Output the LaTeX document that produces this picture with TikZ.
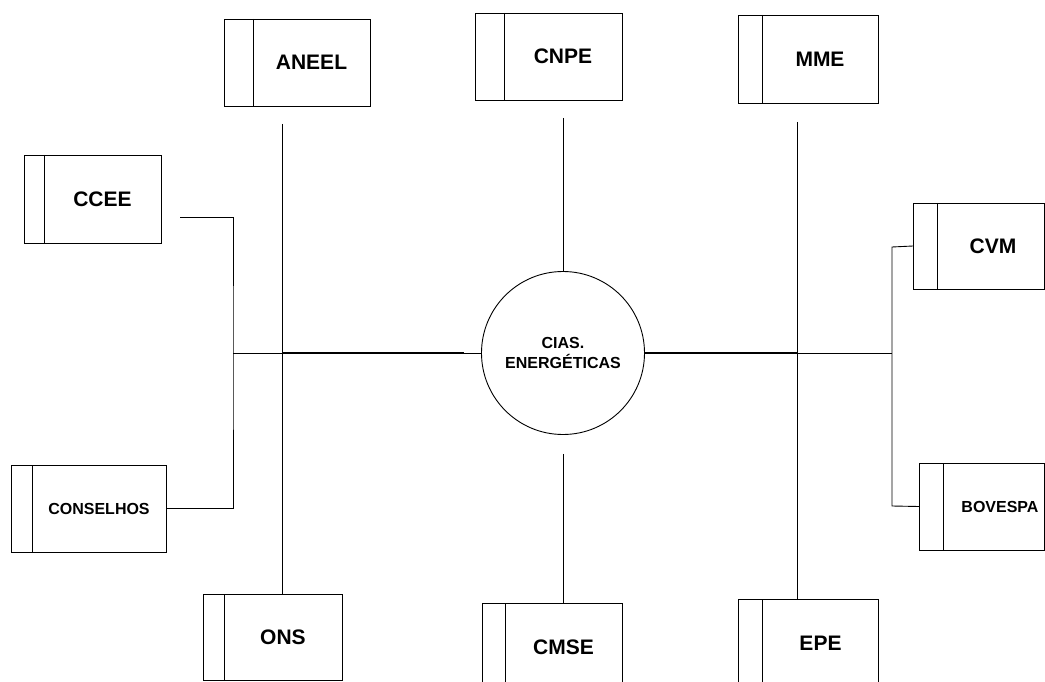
\documentclass[tikz,border=0pt]{standalone}
\usepackage{fontspec}
\setmainfont{Liberation Sans}
\tikzset{
  orgframe/.style={draw, rectangle, inner sep=0pt, outer sep=0pt, line width=0.9pt},
  orglabel/.style={inner sep=0pt, font=\bfseries\fontsize{#1}{#1}\selectfont},
  link/.style={line width=0.9pt},
  heavylink/.style={line width=2.2pt},
}
% #1 name, #2 x1, #3 y1, #4 x2, #5 y2, #6 divider x, #7 text x, #8 font size, #9 text
\newcommand{\orgbox}[9]{%
  \node[orgframe, minimum width={#4-#2}, minimum height={#5-#3}] (#1) at ({(#2+#4)/2},{(#3+#5)/2}) {};
  \coordinate (#1-d) at (#6,#3);
  \draw[line width=0.9pt] (#1.north -| #1-d) -- (#1.south -| #1-d);
  \node[orglabel=#8] (#1-t) at (#7,{(#3+#5)/2}) {#9};
}
\begin{document}
\begin{tikzpicture}[x=1pt,y=-1pt]
\useasboundingbox (0,0) rectangle (1045,682);

\orgbox{aneel}{224}{19}{370}{106}{253}{311.5}{21}{ANEEL}
\orgbox{cnpe}{475}{13}{622}{100}{504}{563}{21}{CNPE}
\orgbox{mme}{738}{15}{878}{103}{762}{820}{21}{MME}
\orgbox{ccee}{24}{155}{161}{243}{44}{102.5}{21}{CCEE}
\orgbox{cvm}{913}{203}{1044}{289}{937}{993}{21}{CVM}
\orgbox{bovespa}{919}{463}{1044}{550}{943}{1000}{16}{BOVESPA}
\orgbox{conselhos}{11}{465}{166}{552}{32}{99}{16}{CONSELHOS}
\orgbox{ons}{203}{594}{342}{680}{224}{283}{21}{ONS}
\orgbox{cmse}{482}{603}{622}{691}{505}{563.5}{21}{CMSE}
\orgbox{epe}{738}{599}{878}{687}{762}{820.5}{21}{EPE}

\node[draw, circle, line width=0.9pt, minimum size=163pt, inner sep=0pt, align=center,
      font=\bfseries\fontsize{16}{20}\selectfont] (cias) at (563,353) {CIAS.\\ENERG\'ETICAS};

% junctions
\coordinate (jL) at (233,353);
\coordinate (jA) at (282,353);
\coordinate (jM) at (797,353);
\coordinate (jR) at (892,353);
\coordinate (cceeT) at (180,217);
\coordinate (cvmJ) at (892,247);
\coordinate (bovJ) at (892,506);
\path ([yshift=-18pt]aneel.south) coordinate (aneelB);
\path ([yshift=-19pt]mme.south) coordinate (mmeB);
\path ([yshift=-18pt]cnpe.south) coordinate (cnpeB);
\path ([yshift=-19pt]cias.south) coordinate (ciasB);

% horizontal trunk
\draw[link] (jL) -- (cias.west);
\draw[heavylink] (jA) -- ([xshift=-17pt]cias.west);
\draw[link] (cias.east) -- (jR);
\draw[heavylink] (cias.east) -- (jM);

% verticals
\draw[link] (aneelB -| jA) -- (ons.north -| jA);
\draw[link] (cnpeB -| cias) -- (cias.north);
\draw[link] (ciasB) -- (cmse.north -| cias);
\draw[link] (mmeB -| jM) -- (epe.north -| jM);

% left branch
\draw[link] (cceeT) -| (jL) |- (conselhos.east);

% right branch
\draw[link] (cvm.west) -- (cvmJ) -- (bovJ) -- (bovespa.west);
\end{tikzpicture}
\end{document}
